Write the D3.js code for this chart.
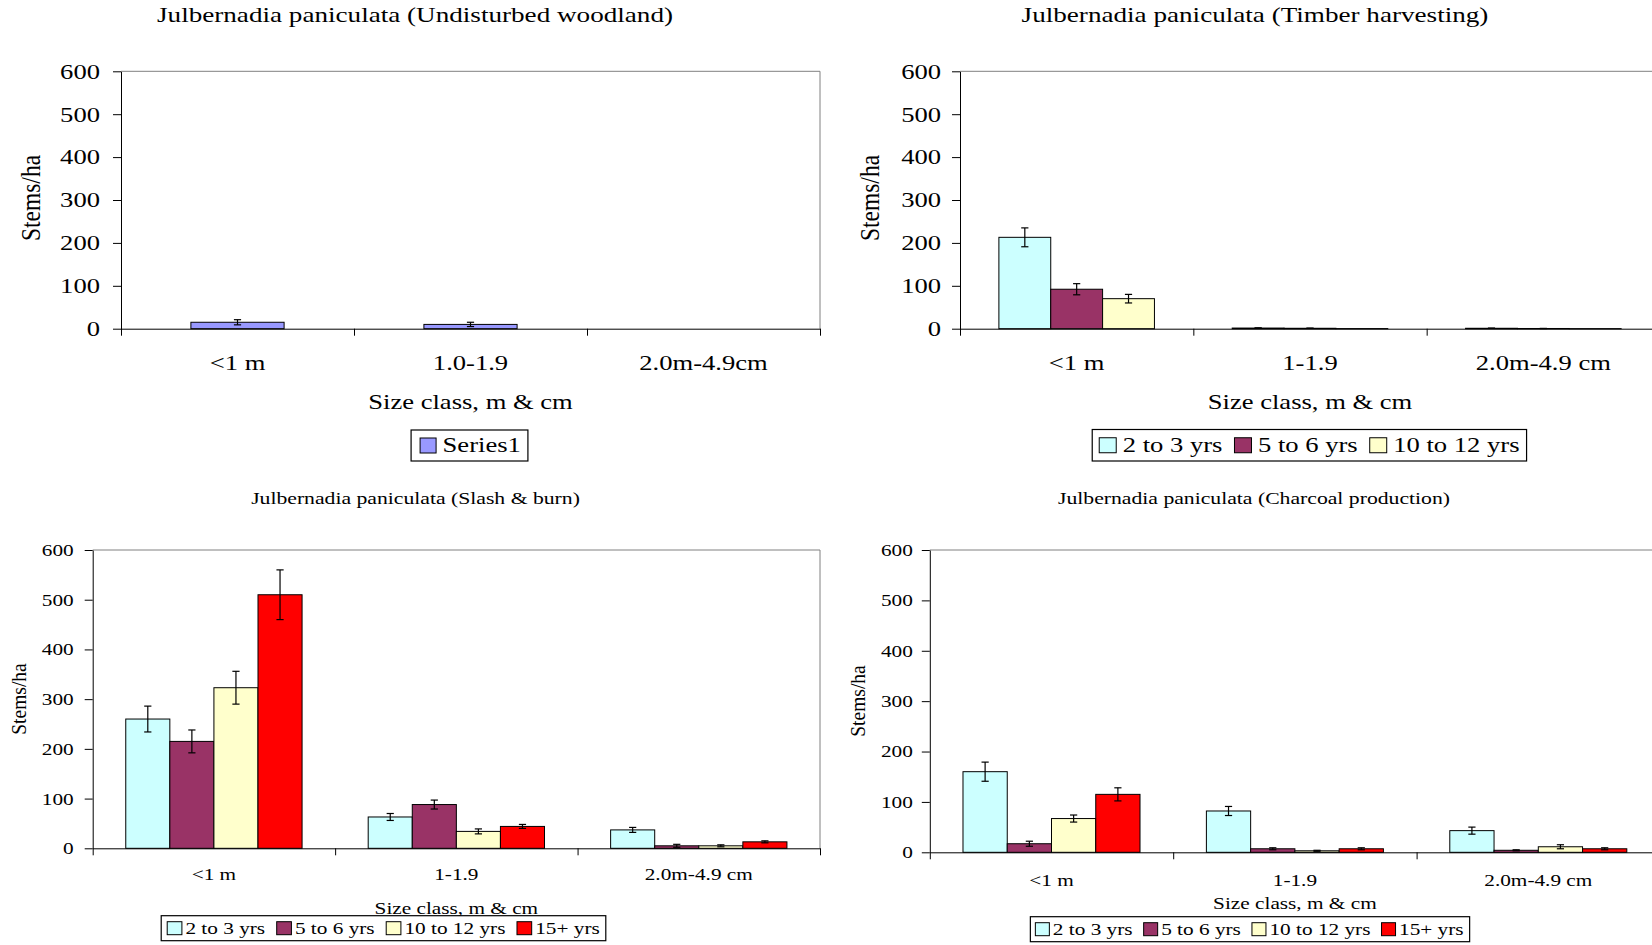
<!DOCTYPE html>
<html>
<head>
<meta charset="utf-8">
<script src="https://cdn.jsdelivr.net/npm/d3@7"></script>
<style>
  body { margin: 0; background: #fff; }
  svg { display: block; }
  text { font-family: "Liberation Serif", "Times New Roman", serif; fill: #000; }
</style>
</head>
<body>
<svg id="chart" width="1652" height="945"></svg>
<script>
// ---- data ----
const yTicks = [0, 100, 200, 300, 400, 500, 600];
const ageNames = ["2 to 3 yrs", "5 to 6 yrs", "10 to 12 yrs", "15+ yrs"];
const ageColors = ["#CCFFFF", "#993366", "#FFFFCC", "#FF0000"];

const undisturbedCats = ["<1 m", "1.0-1.9", "2.0m-4.9cm"];
const undisturbedNames = ["Series1"];
const undisturbedColors = ["#9999FF"];
const undisturbedValues = [[15, 10, 0]];
const undisturbedErrors = [[6, 5, 0]];

const timberCats = ["<1 m", "1-1.9", "2.0m-4.9 cm"];
const timberValues = [
  [213, 1.5, 1],
  [92, 1, 0.5],
  [70, 0.3, 0.2]
];
const timberErrors = [
  [22, 0.5, 0.3],
  [13, 0.3, 0.2],
  [10, 0, 0]
];

const slashCats = ["<1 m", "1-1.9", "2.0m-4.9 cm"];
const slashValues = [
  [260, 63, 37],
  [215, 88, 5],
  [323, 34, 5],
  [510, 44, 13]
];
const slashErrors = [
  [26, 7, 5],
  [23, 9, 3],
  [33, 5, 2],
  [50, 4, 2]
];

const charcoalCats = ["<1 m", "1-1.9", "2.0m-4.9 cm"];
const charcoalValues = [
  [160, 82, 43],
  [17, 7, 4],
  [67, 3, 11],
  [115, 7, 7]
];
const charcoalErrors = [
  [19, 9, 7],
  [5, 2, 1],
  [7, 1, 4],
  [13, 2, 2]
];

// ---- drawing ----
const SX = 1.33; // horizontal stretch applied to all lettering
const svg = d3.select("#chart");

function label(g, x, y, str, size, anchor = "middle", sx = SX) {
  return g.append("text")
    .attr("transform", `translate(${x},${y}) scale(${sx},1)`)
    .attr("text-anchor", anchor)
    .style("font-size", size + "px")
    .text(str);
}

function panel(cfg) {
  const g = svg.append("g");
  const x = d3.scaleBand().domain(cfg.cats).range([cfg.left, cfg.right]).paddingInner(0).paddingOuter(0);
  const xs = d3.scaleBand().domain(d3.range(cfg.names.length)).range([0, x.bandwidth()])
    .paddingInner(0).paddingOuter(0.75);
  const y = d3.scaleLinear().domain([0, 600]).range([cfg.bottom, cfg.top]);
  const edges = d3.scaleLinear().domain([0, cfg.cats.length]).range([cfg.left, cfg.right]);

  // plot-area frame (top and right)
  g.append("path")
    .attr("d", `M${cfg.left},${cfg.top}H${cfg.right}V${cfg.bottom}`)
    .attr("fill", "none").attr("stroke", "#808080").attr("stroke-width", 1);

  // bars
  cfg.names.forEach((name, si) => {
    cfg.values[si].forEach((v, ci) => {
      const bx = x(cfg.cats[ci]) + xs(si);
      g.append("rect")
        .attr("x", bx).attr("width", xs.bandwidth())
        .attr("y", y(v)).attr("height", y(0) - y(v))
        .attr("fill", cfg.colors[si]).attr("stroke", "#000").attr("stroke-width", 1);
    });
  });

  // error bars
  cfg.names.forEach((name, si) => {
    cfg.values[si].forEach((v, ci) => {
      const e = cfg.errors[si][ci];
      if (!e) return;
      const cx = x(cfg.cats[ci]) + xs(si) + xs.bandwidth() / 2;
      const eg = g.append("g").attr("stroke", "#000").attr("stroke-width", 1.2);
      eg.append("line").attr("x1", cx).attr("x2", cx).attr("y1", y(v + e)).attr("y2", y(v - e));
      [v + e, v - e].forEach(t => eg.append("line")
        .attr("x1", cx - 3.6).attr("x2", cx + 3.6).attr("y1", y(t)).attr("y2", y(t)));
    });
  });

  // y axis
  const ya = g.append("g").attr("transform", `translate(${cfg.left},0)`)
    .call(d3.axisLeft(y).tickValues(yTicks).tickSize(8).tickSizeOuter(0).tickFormat(d3.format("d")));
  ya.select(".domain").attr("stroke", "#000");
  ya.selectAll(".tick line").attr("stroke", "#000");
  ya.selectAll(".tick text")
    .attr("x", -cfg.yLabelGap / SX)
    .attr("dy", "0.34em")
    .attr("transform", `scale(${SX},1)`)
    .style("font-size", cfg.font + "px")
    .style("font-family", "'Liberation Serif','Times New Roman',serif")
    .attr("fill", "#000");

  // x axis: ticks on category boundaries
  const xa = g.append("g").attr("transform", `translate(0,${cfg.bottom})`)
    .call(d3.axisBottom(edges).tickValues(d3.range(cfg.cats.length + 1)).tickSize(7).tickSizeOuter(0).tickFormat(""));
  xa.select(".domain").attr("stroke", "#000");
  xa.selectAll(".tick line").attr("stroke", "#000");

  // category labels
  cfg.cats.forEach(c => label(g, x(c) + x.bandwidth() / 2, cfg.catY, c, cfg.font));

  // titles
  label(g, cfg.titleX, cfg.titleY, cfg.title, cfg.font, "middle", SX * 1.02);
  label(g, (cfg.left + cfg.right) / 2, cfg.xTitleY, "Size class, m & cm", cfg.font);
  g.append("text")
    .attr("transform", `translate(${cfg.yTitleX},${cfg.yTitleY}) scale(1.12,1) rotate(-90)`)
    .attr("text-anchor", "middle").attr("dy", "0.35em")
    .style("font-size", cfg.yTitleFont + "px")
    .text("Stems/ha");

  // legend
  const lg = g.append("g");
  const items = cfg.names.map((n, i) => {
    const t = lg.append("text")
      .style("font-size", cfg.font + "px").text(n);
    return { t, w: t.node().getComputedTextLength() * SX, i };
  });
  const L = cfg.legend;
  let total = L.padL;
  items.forEach((it, k) => {
    it.off = total;
    total += L.swW + L.textOff + it.w + (k < items.length - 1 ? L.gap : 0);
  });
  total += L.padR;
  const bx0 = L.cx - total / 2;
  lg.insert("rect", ":first-child")
    .attr("x", bx0).attr("y", L.top).attr("width", total).attr("height", L.h)
    .attr("fill", "#fff").attr("stroke", "#000").attr("stroke-width", 1.2);
  items.forEach(it => {
    const sx0 = bx0 + it.off;
    lg.append("rect")
      .attr("x", sx0).attr("y", L.top + (L.h - L.swH) / 2)
      .attr("width", L.swW).attr("height", L.swH)
      .attr("fill", cfg.colors[it.i]).attr("stroke", "#000").attr("stroke-width", 1);
    it.t.attr("transform", `translate(${sx0 + L.swW + L.textOff},${L.top + L.h / 2}) scale(${SX},1)`)
      .attr("dy", "0.34em");
  });
}

panel({
  cats: undisturbedCats, names: undisturbedNames, colors: undisturbedColors,
  values: undisturbedValues, errors: undisturbedErrors,
  left: 121, right: 820, top: 71.3, bottom: 328.7, font: 20, yLabelGap: 21,
  catY: 370, xTitleY: 409, title: "Julbernadia paniculata (Undisturbed woodland)", titleX: 415, titleY: 22,
  yTitleX: 31, yTitleY: 198, yTitleFont: 23.5,
  legend: { cx: 469.5, top: 430, h: 31, padL: 9, swW: 16, swH: 15, textOff: 6.5, gap: 12, padR: 7 }
});

panel({
  cats: timberCats, names: ageNames.slice(0, 3), colors: ageColors,
  values: timberValues, errors: timberErrors,
  left: 960, right: 1660, top: 71.3, bottom: 328.7, font: 20, yLabelGap: 19,
  catY: 370, xTitleY: 409, title: "Julbernadia paniculata (Timber harvesting)", titleX: 1255, titleY: 22,
  yTitleX: 869.5, yTitleY: 198, yTitleFont: 23.5,
  legend: { cx: 1309.4, top: 429.5, h: 31.5, padL: 7, swW: 17, swH: 15, textOff: 6.5, gap: 12, padR: 7 }
});

panel({
  cats: slashCats, names: ageNames, colors: ageColors,
  values: slashValues, errors: slashErrors,
  left: 92.7, right: 820, top: 550, bottom: 848.3, font: 16, yLabelGap: 19,
  catY: 880, xTitleY: 914, title: "Julbernadia paniculata (Slash & burn)", titleX: 415.5, titleY: 504,
  yTitleX: 18.4, yTitleY: 699, yTitleFont: 19.5,
  legend: { cx: 383.5, top: 915.7, h: 25, padL: 6, swW: 14.7, swH: 13, textOff: 3.5, gap: 11.5, padR: 6 }
});

panel({
  cats: charcoalCats, names: ageNames, colors: ageColors,
  values: charcoalValues, errors: charcoalErrors,
  left: 929.8, right: 1660, top: 550, bottom: 852.3, font: 16, yLabelGap: 17,
  catY: 885.5, xTitleY: 909, title: "Julbernadia paniculata (Charcoal production)", titleX: 1254, titleY: 504,
  yTitleX: 857, yTitleY: 701, yTitleFont: 19.5,
  legend: { cx: 1250, top: 916.7, h: 25, padL: 5, swW: 14, swH: 13, textOff: 3.5, gap: 11, padR: 6 }
});
</script>
</body>
</html>
